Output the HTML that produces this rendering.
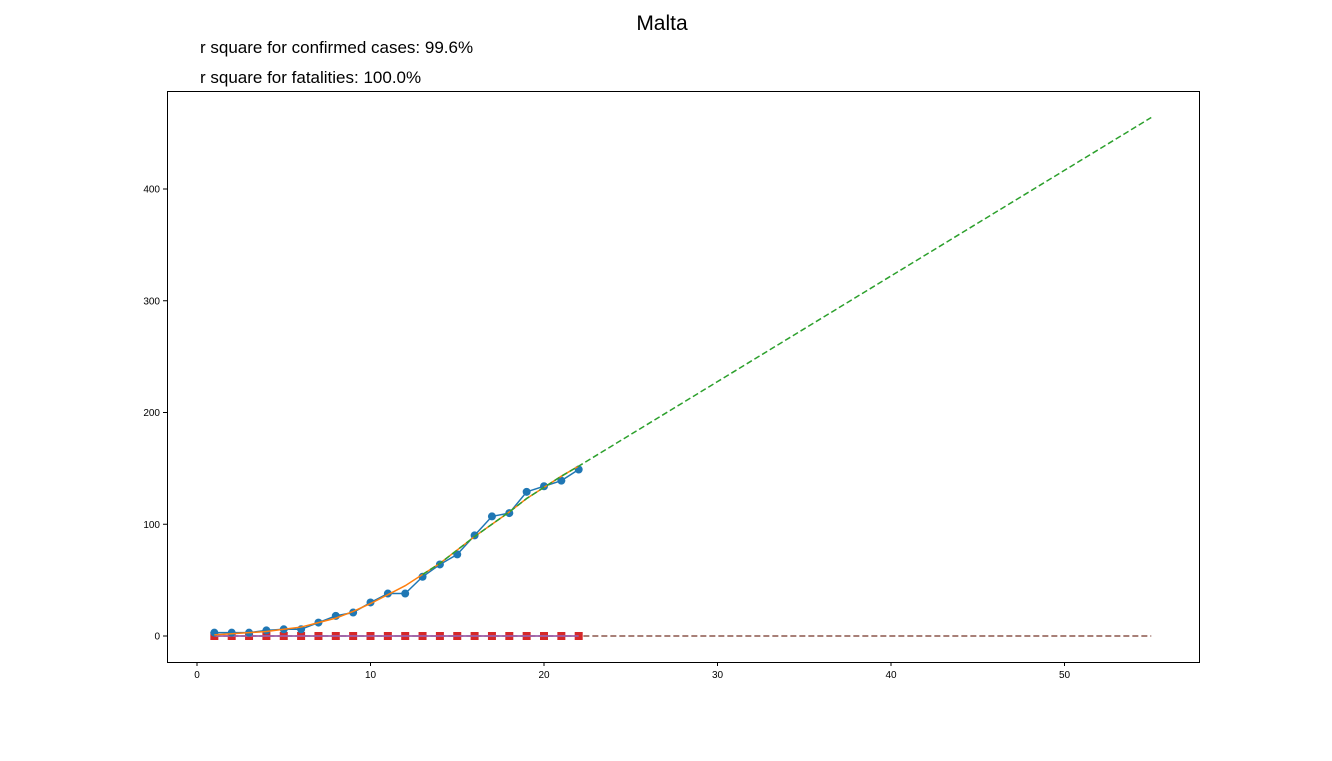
<!DOCTYPE html>
<html><head><meta charset="utf-8"><style>
body{margin:0;background:#fff;font-family:"Liberation Sans","DejaVu Sans",sans-serif}
</style></head><body>
<svg width="1332" height="756" xmlns="http://www.w3.org/2000/svg">
<text x="662" y="30" font-size="21" text-anchor="middle">Malta</text>
<text x="200" y="53" font-size="17">r square for confirmed cases: 99.6%</text>
<text x="200" y="83" font-size="17">r square for fatalities: 100.0%</text>
<g id="plot"></g>
<rect x="167.5" y="91.5" width="1032" height="571" fill="none" stroke="#000" stroke-width="1"/>
</svg>
<script>
const days = [1,2,3,4,5,6,7,8,9,10,11,12,13,14,15,16,17,18,19,20,21,22];
const confirmed = [3,3,3,5,6,6,12,18,21,30,38,38,53,64,73,90,107,110,129,134,139,149];
const fitConfirmed = [1,2,3,4,6,8,12,16,22,29,37,45,55,65,77,89,100,111,123,133,143,152];
const fatalities = [0,0,0,0,0,0,0,0,0,0,0,0,0,0,0,0,0,0,0,0,0,0];
const projDays = [13,14,15,16,17,18,19,20,21,22,55];
const projConfirmed = [55,65,77,89,100,111,123,133,143,152,464];
const projFatalDays = [1,55];
const projFatal = [0,0];
const xTicks = [0,10,20,30,40,50];
const yTicks = [0,100,200,300,400];
const sx = v => 197 + v*17.35;
const sy = v => 636 - v*1.1175;
const g = document.getElementById('plot');
const NS = 'http://www.w3.org/2000/svg';
function mk(tag, attrs){const e=document.createElementNS(NS,tag);for(const k in attrs)e.setAttribute(k,attrs[k]);g.appendChild(e);return e;}
xTicks.forEach(t=>{
  const l=mk('line',{x1:sx(t),x2:sx(t),y1:662,y2:666,stroke:'#000'});
  
  
  const tx=mk('text',{x:sx(t),y:678,'font-size':10,'text-anchor':'middle'});tx.textContent=t;
  
  
});
yTicks.forEach(t=>{
  const l=mk('line',{x1:163,x2:167,y1:sy(t),y2:sy(t),stroke:'#000'});
  
  
  const tx=mk('text',{x:160,y:sy(t)+3.5,'font-size':10,'text-anchor':'end'});tx.textContent=t;
  
  
});
const pts=(xs,ys)=>xs.map((x,i)=>sx(x)+','+sy(ys[i])).join(' ');
let e;
e=mk('polyline',{points:pts(projFatalDays,projFatal),fill:'none',stroke:'#8c564b','stroke-width':1.5,'stroke-dasharray':'6,3'});


e=mk('polyline',{points:pts(days,fatalities),fill:'none',stroke:'#d62728','stroke-width':1.5});


days.forEach((d,i)=>{
  const r=mk('rect',{x:sx(d)-4,y:sy(fatalities[i])-4,width:8,height:8,fill:'#d62728'});
  
  
});
e=mk('polyline',{points:pts(days,fatalities),fill:'none',stroke:'#9467bd','stroke-width':1.5});


e=mk('polyline',{points:pts(days,confirmed),fill:'none',stroke:'#1f77b4','stroke-width':1.5});


days.forEach((d,i)=>{
  const c=mk('circle',{cx:sx(d),cy:sy(confirmed[i]),r:4,fill:'#1f77b4'});
  
  
});
e=mk('polyline',{points:pts(days,fitConfirmed),fill:'none',stroke:'#ff7f0e','stroke-width':1.5});


e=mk('polyline',{points:pts(projDays,projConfirmed),fill:'none',stroke:'#2ca02c','stroke-width':1.5,'stroke-dasharray':'6,3'});


</script>
</body></html>
